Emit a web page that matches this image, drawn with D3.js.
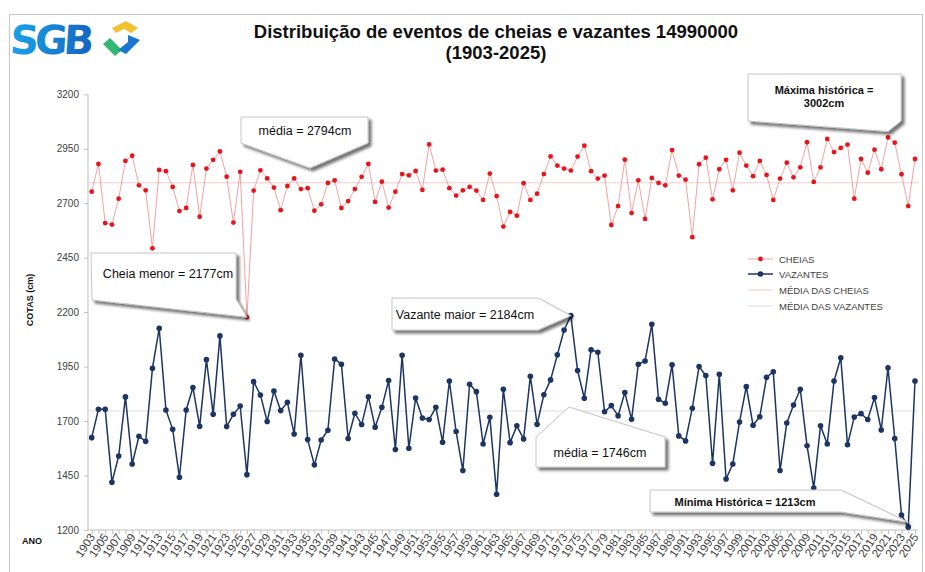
<!DOCTYPE html>
<html><head><meta charset="utf-8">
<script src="https://cdn.jsdelivr.net/npm/d3@7/dist/d3.min.js"></script>
<style>
html,body{margin:0;padding:0;background:#fff;}
svg{display:block;font-family:"Liberation Sans",Arial,sans-serif;}
</style></head>
<body>
<svg id="chart" width="925" height="572"></svg>
<script>
// ---------- DATA ----------
const firstYear = 1903, lastYear = 2025;
const years = d3.range(firstYear, lastYear + 1);
const cheias = [
  2753,2880,2609,2602,2721,2894,2918,2782,2759,2493,
  2853,2847,2775,2664,2678,2876,2638,2859,2899,2938,
  2822,2611,2844,2177,2758,2851,2814,2772,2668,2779,
  2814,2765,2769,2666,2695,2793,2805,2678,2710,2765,
  2821,2880,2706,2799,2680,2753,2834,2828,2848,2761,
  2970,2850,2854,2769,2735,2759,2775,2758,2715,2836,
  2733,2593,2660,2643,2792,2715,2744,2834,2915,2873,
  2859,2850,2914,2964,2847,2813,2827,2600,2687,2900,
  2655,2805,2628,2816,2793,2782,2944,2827,2808,2544,
  2879,2909,2718,2856,2899,2759,2932,2873,2824,2894,
  2830,2715,2813,2886,2819,2865,2980,2798,2865,2995,
  2935,2954,2969,2721,2903,2840,2946,2856,3002,2978,
  2833,2687,2903
];
const vazantes = [
  1624,1754,1754,1419,1540,1811,1503,1630,1607,1942,
  2126,1751,1662,1442,1751,1854,1676,1982,1731,2091,
  1675,1731,1769,1454,1881,1820,1698,1838,1748,1786,
  1641,2002,1615,1499,1613,1658,1985,1961,1620,1736,
  1684,1812,1672,1763,1886,1569,2002,1575,1806,1714,
  1707,1763,1603,1884,1652,1473,1869,1835,1595,1717,
  1364,1846,1601,1678,1618,1906,1685,1821,1889,2004,
  2118,2184,1932,1805,2027,2016,1743,1771,1724,1831,
  1708,1961,1976,2144,1800,1782,1958,1632,1609,1759,
  1950,1909,1506,1915,1434,1503,1696,1858,1681,1720,
  1901,1926,1473,1691,1774,1846,1587,1393,1678,1595,
  1884,1991,1591,1719,1734,1707,1808,1659,1945,1620,
  1269,1213,1884
];
const mediaCheias = 2794;
const mediaVazantes = 1746;
const yTicks = [1200,1450,1700,1950,2200,2450,2700,2950,3200];
const xTickLabels = years.filter(y => (y - firstYear) % 2 === 0);
const legendLabels = ["CHEIAS","VAZANTES","MÉDIA DAS CHEIAS","MÉDIA DAS VAZANTES"];
const titleLines = ["Distribuição de eventos de cheias e vazantes 14990000","(1903-2025)"];

// ---------- LAYOUT ----------
const svg = d3.select("#chart");
const plotLeft = 88, plotRight = 918, plotTop = 94.3, plotBottom = 530;
const x = d3.scaleLinear().domain([firstYear, lastYear]).range([91.7, 915]);
const y = d3.scaleLinear().domain([1200, 3200]).range([plotBottom, plotTop]);

const defs = svg.append("defs");
const sh = defs.append("filter").attr("id","shadow").attr("x","-10%").attr("y","-20%").attr("width","130%").attr("height","160%");
sh.append("feGaussianBlur").attr("in","SourceAlpha").attr("stdDeviation",1.6);
sh.append("feOffset").attr("dx",2.5).attr("dy",3).attr("result","ob");
sh.append("feComponentTransfer").append("feFuncA").attr("type","linear").attr("slope",0.55);
const fm = sh.append("feMerge"); fm.append("feMergeNode"); fm.append("feMergeNode").attr("in","SourceGraphic");

const lg = defs.append("linearGradient").attr("id","logoGrad").attr("x1","0").attr("x2","1").attr("y1","0").attr("y2","0");
lg.append("stop").attr("offset","0").attr("stop-color","#1aa3e8");
lg.append("stop").attr("offset","1").attr("stop-color","#1565c0");

// frame
svg.append("rect").attr("x",9.5).attr("y",14.5).attr("width",913).attr("height",570)
  .attr("fill","none").attr("stroke","#c8c8c8").attr("stroke-width",1);

// logo
const logo = svg.append("g");
logo.append("text").attr("x",13).attr("y",54).attr("font-size",40).attr("font-weight",900)
  .attr("letter-spacing",-4).attr("fill","url(#logoGrad)").attr("transform","skewX(-4)")
  .attr("font-family","'DejaVu Sans',sans-serif").text("SGB");
logo.append("path").attr("d","M103,44 L115,56 L122,50 L110,38 Z").attr("fill","#2eb872");
logo.append("path").attr("d","M112,28 L126,21 L138,28 L131,33 L124,29 L116,33 Z").attr("fill","#f2c230");
logo.append("path").attr("d","M128,35 L140,40 L126,54 L118,50 L128,42 Z").attr("fill","#1976d2");

// title
svg.append("g").selectAll("text").data(titleLines).join("text")
  .attr("x",496).attr("y",(d,i)=>38 + i*21)
  .attr("text-anchor","middle").attr("font-size",18.5).attr("font-weight","bold").attr("fill","#111")
  .text(d=>d);

// axes
svg.append("line").attr("x1",plotLeft).attr("x2",plotLeft).attr("y1",plotTop).attr("y2",plotBottom)
  .attr("stroke","#bfbfbf");
svg.append("line").attr("x1",plotLeft).attr("x2",plotRight).attr("y1",plotBottom).attr("y2",plotBottom)
  .attr("stroke","#bfbfbf");

const yAxis = d3.axisLeft(y).tickValues(yTicks).tickSize(4).tickPadding(5).tickFormat(d3.format("d"));
const gy = svg.append("g").attr("transform",`translate(${plotLeft},0)`).call(yAxis);
gy.select(".domain").remove();
gy.selectAll("line").attr("stroke","#bfbfbf");
gy.selectAll("text").attr("font-size",10).attr("fill","#404040").attr("font-family","'Liberation Sans',Arial,sans-serif");

const xAxis = d3.axisBottom(x).tickValues(years).tickSize(4).tickFormat("");
const gx = svg.append("g").attr("transform",`translate(0,${plotBottom})`).call(xAxis);
gx.select(".domain").remove();
gx.selectAll("line").attr("stroke","#bfbfbf");
svg.append("g").selectAll("text").data(xTickLabels).join("text")
  .attr("transform",d=>`translate(${x(d)+4},${plotBottom+7}) rotate(-56)`)
  .attr("text-anchor","end").attr("font-size",11.5).attr("fill","#404040").text(d=>d);

// axis titles
svg.append("text").attr("transform","translate(33,300) rotate(-90)").attr("text-anchor","middle")
  .attr("font-size",9).attr("font-weight","bold").attr("fill","#111").text("COTAS (cm)");
svg.append("text").attr("x",22).attr("y",544).attr("font-size",9).attr("font-weight","bold").attr("fill","#111").text("ANO");

// mean lines
svg.append("line").attr("x1",plotLeft).attr("x2",plotRight).attr("y1",y(mediaCheias)).attr("y2",y(mediaCheias))
  .attr("stroke","#f6cccc").attr("stroke-width",1);
svg.append("line").attr("x1",plotLeft).attr("x2",plotRight).attr("y1",y(mediaVazantes)).attr("y2",y(mediaVazantes))
  .attr("stroke","#dcdcdc").attr("stroke-width",1);

// series
const cData = years.map((yr,i)=>({yr, v:cheias[i]}));
const vData = years.map((yr,i)=>({yr, v:vazantes[i]}));
const line = d3.line().x(d=>x(d.yr)).y(d=>y(d.v));
svg.append("path").datum(cData).attr("d",line).attr("fill","none").attr("stroke","#f08a8a").attr("stroke-width",0.8);
svg.append("g").selectAll("circle").data(cData).join("circle")
  .attr("cx",d=>x(d.yr)).attr("cy",d=>y(d.v)).attr("r",2.4).attr("fill","#e8141c");
svg.append("path").datum(vData).attr("d",line).attr("fill","none").attr("stroke","#1c3563").attr("stroke-width",1.5);
svg.append("g").selectAll("circle").data(vData).join("circle")
  .attr("cx",d=>x(d.yr)).attr("cy",d=>y(d.v)).attr("r",2.8).attr("fill","#1c3563");

// legend
const lgG = svg.append("g");
const legendY = [259, 274, 290, 306];
const legendStroke = ["#f08a8a","#1c3563","#f6cccc","#dcdcdc"];
const legendW = [0.8,1.5,1,1];
legendLabels.forEach((lab,i)=>{
  lgG.append("line").attr("x1",748).attr("x2",773).attr("y1",legendY[i]).attr("y2",legendY[i])
    .attr("stroke",legendStroke[i]).attr("stroke-width",legendW[i]);
  if(i<2) lgG.append("circle").attr("cx",760.5).attr("cy",legendY[i]).attr("r",i===0?2.4:2.8)
    .attr("fill",i===0?"#e8141c":"#1c3563");
  lgG.append("text").attr("x",779).attr("y",legendY[i]+3.5).attr("font-size",9.5).attr("fill","#404040").text(lab);
});

// callouts
function callout(pts, textLines, tx, ty, opts){
  const g = svg.append("g");
  g.append("path").attr("d","M"+pts.map(p=>p.join(",")).join("L")+"Z")
    .attr("fill","#fff").attr("stroke","#c4c4c4").attr("stroke-width",1).attr("filter","url(#shadow)");
  textLines.forEach((t,i)=>{
    g.append("text").attr("x",tx).attr("y",ty + i*(opts.lh||13)).attr("text-anchor","middle")
      .attr("font-size",opts.size).attr("font-weight",opts.bold?"bold":"normal").attr("fill","#111").text(t);
  });
}
// média cheias
callout([[241,117],[368,117],[368,143],[310,168],[241,143]], ["média = 2794cm"], 305, 135, {size:12.5});
// cheia menor
const pMin = [x(1926), y(cheias[1926-firstYear])];
callout([[91,253],[236,253],[236,299],pMin,[92,300]], ["Cheia menor = 2177cm"], 168, 278, {size:12.5});
// vazante maior
const pVmax = [x(1974), y(vazantes[1974-firstYear])];
callout([[392,298],[538,298],pVmax,[538,330],[392,330]], ["Vazante maior = 2184cm"], 465, 319, {size:12.5});
// média vazantes
callout([[536,437],[569,407],[665,437],[665,467],[536,467]], ["média = 1746cm"], 600, 457, {size:12.5});
// máxima histórica
const pMax = [x(2021), y(cheias[2021-firstYear]) - 6];
callout([[748,74],[901,74],[901,121],pMax,[748,121]], ["Máxima histórica =","3002cm"], 824, 94, {size:11, bold:true, lh:13});
// mínima histórica
const pVmin = [x(2024), y(vazantes[2024-firstYear]) - 5];
callout([[650,490],[841,490],pVmin,[841,512],[650,512]], ["Mínima Histórica = 1213cm"], 745, 506, {size:11, bold:true});
</script>
</body></html>
